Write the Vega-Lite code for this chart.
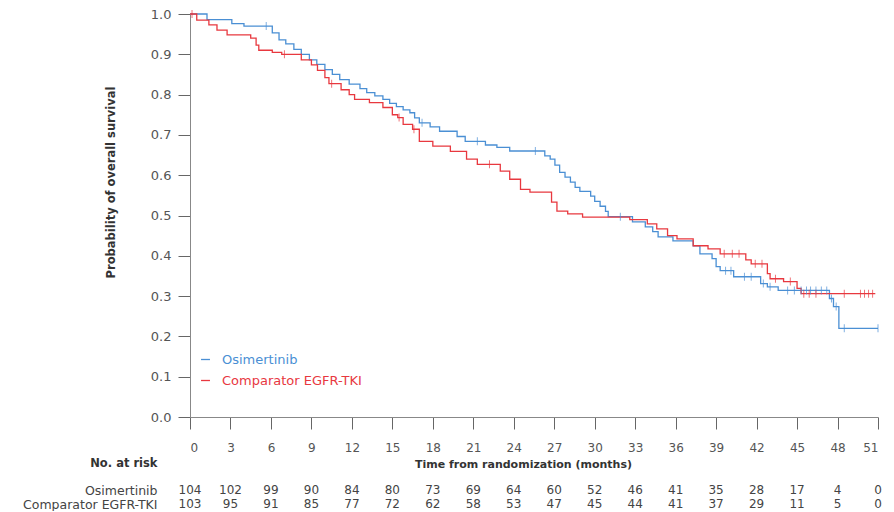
{
  "$schema": "https://vega.github.io/schema/vega-lite/v6.json",
  "padding": {"left": 22, "top": 8, "right": 3, "bottom": 0},
  "background": "white",
  "bounds": "flush",
  "spacing": 66,
  "config": {"font": "DejaVu Sans", "view": {"stroke": null}},
  "datasets": {
    "steps": [
      {"arm": "Osimertinib", "month": 0, "survival": 1.0},
      {"arm": "Osimertinib", "month": 1.26, "survival": 0.986},
      {"arm": "Osimertinib", "month": 3.1, "survival": 0.976},
      {"arm": "Osimertinib", "month": 4.0, "survival": 0.97},
      {"arm": "Osimertinib", "month": 6.1, "survival": 0.953},
      {"arm": "Osimertinib", "month": 6.6, "survival": 0.936},
      {"arm": "Osimertinib", "month": 7.1, "survival": 0.926},
      {"arm": "Osimertinib", "month": 7.7, "survival": 0.912},
      {"arm": "Osimertinib", "month": 8.25, "survival": 0.9},
      {"arm": "Osimertinib", "month": 8.85, "survival": 0.886},
      {"arm": "Osimertinib", "month": 9.4, "survival": 0.875},
      {"arm": "Osimertinib", "month": 10.0, "survival": 0.862},
      {"arm": "Osimertinib", "month": 10.55, "survival": 0.85},
      {"arm": "Osimertinib", "month": 11.1, "survival": 0.837},
      {"arm": "Osimertinib", "month": 11.8, "survival": 0.826},
      {"arm": "Osimertinib", "month": 12.6, "survival": 0.815},
      {"arm": "Osimertinib", "month": 13.1, "survival": 0.805},
      {"arm": "Osimertinib", "month": 13.7, "survival": 0.797},
      {"arm": "Osimertinib", "month": 14.3, "survival": 0.788},
      {"arm": "Osimertinib", "month": 14.8, "survival": 0.778},
      {"arm": "Osimertinib", "month": 15.3, "survival": 0.77},
      {"arm": "Osimertinib", "month": 15.8, "survival": 0.762},
      {"arm": "Osimertinib", "month": 16.3, "survival": 0.755},
      {"arm": "Osimertinib", "month": 16.65, "survival": 0.742},
      {"arm": "Osimertinib", "month": 17.0, "survival": 0.73},
      {"arm": "Osimertinib", "month": 17.8, "survival": 0.72},
      {"arm": "Osimertinib", "month": 18.5, "survival": 0.709},
      {"arm": "Osimertinib", "month": 19.8, "survival": 0.696},
      {"arm": "Osimertinib", "month": 20.4, "survival": 0.684},
      {"arm": "Osimertinib", "month": 21.9, "survival": 0.675},
      {"arm": "Osimertinib", "month": 22.75, "survival": 0.669},
      {"arm": "Osimertinib", "month": 23.7, "survival": 0.66},
      {"arm": "Osimertinib", "month": 26.3, "survival": 0.648},
      {"arm": "Osimertinib", "month": 26.7, "survival": 0.64},
      {"arm": "Osimertinib", "month": 27.05, "survival": 0.625},
      {"arm": "Osimertinib", "month": 27.4, "survival": 0.607},
      {"arm": "Osimertinib", "month": 27.8, "survival": 0.595},
      {"arm": "Osimertinib", "month": 28.2, "survival": 0.583},
      {"arm": "Osimertinib", "month": 28.55, "survival": 0.57},
      {"arm": "Osimertinib", "month": 28.9, "survival": 0.56},
      {"arm": "Osimertinib", "month": 29.7, "survival": 0.548},
      {"arm": "Osimertinib", "month": 30.0, "survival": 0.535},
      {"arm": "Osimertinib", "month": 30.4, "survival": 0.523},
      {"arm": "Osimertinib", "month": 30.8, "survival": 0.51},
      {"arm": "Osimertinib", "month": 31.0, "survival": 0.497},
      {"arm": "Osimertinib", "month": 32.8, "survival": 0.484},
      {"arm": "Osimertinib", "month": 33.75, "survival": 0.472},
      {"arm": "Osimertinib", "month": 34.3, "survival": 0.46},
      {"arm": "Osimertinib", "month": 34.7, "survival": 0.447},
      {"arm": "Osimertinib", "month": 35.8, "survival": 0.437},
      {"arm": "Osimertinib", "month": 37.3, "survival": 0.425},
      {"arm": "Osimertinib", "month": 37.8, "survival": 0.405},
      {"arm": "Osimertinib", "month": 38.7, "survival": 0.393},
      {"arm": "Osimertinib", "month": 39.0, "survival": 0.373},
      {"arm": "Osimertinib", "month": 39.3, "survival": 0.363},
      {"arm": "Osimertinib", "month": 40.3, "survival": 0.348},
      {"arm": "Osimertinib", "month": 42.3, "survival": 0.331},
      {"arm": "Osimertinib", "month": 42.8, "survival": 0.323},
      {"arm": "Osimertinib", "month": 43.6, "survival": 0.314},
      {"arm": "Osimertinib", "month": 47.4, "survival": 0.294},
      {"arm": "Osimertinib", "month": 47.7, "survival": 0.274},
      {"arm": "Osimertinib", "month": 48.1, "survival": 0.22},
      {"arm": "Osimertinib", "month": 51.0, "survival": 0.22},
      {"arm": "Comparator EGFR-TKI", "month": 0, "survival": 1.0},
      {"arm": "Comparator EGFR-TKI", "month": 0.5, "survival": 0.985},
      {"arm": "Comparator EGFR-TKI", "month": 1.4, "survival": 0.973},
      {"arm": "Comparator EGFR-TKI", "month": 2.0, "survival": 0.96},
      {"arm": "Comparator EGFR-TKI", "month": 2.75, "survival": 0.948},
      {"arm": "Comparator EGFR-TKI", "month": 4.5, "survival": 0.94},
      {"arm": "Comparator EGFR-TKI", "month": 4.9, "survival": 0.923},
      {"arm": "Comparator EGFR-TKI", "month": 5.1, "survival": 0.91},
      {"arm": "Comparator EGFR-TKI", "month": 6.1, "survival": 0.905},
      {"arm": "Comparator EGFR-TKI", "month": 6.8, "survival": 0.9},
      {"arm": "Comparator EGFR-TKI", "month": 8.25, "survival": 0.886},
      {"arm": "Comparator EGFR-TKI", "month": 9.0, "survival": 0.874},
      {"arm": "Comparator EGFR-TKI", "month": 9.45, "survival": 0.86},
      {"arm": "Comparator EGFR-TKI", "month": 10.0, "survival": 0.842},
      {"arm": "Comparator EGFR-TKI", "month": 10.3, "survival": 0.827},
      {"arm": "Comparator EGFR-TKI", "month": 11.2, "survival": 0.812},
      {"arm": "Comparator EGFR-TKI", "month": 11.8, "survival": 0.8},
      {"arm": "Comparator EGFR-TKI", "month": 12.2, "survival": 0.788},
      {"arm": "Comparator EGFR-TKI", "month": 13.3, "survival": 0.78},
      {"arm": "Comparator EGFR-TKI", "month": 14.3, "survival": 0.768},
      {"arm": "Comparator EGFR-TKI", "month": 15.0, "survival": 0.75},
      {"arm": "Comparator EGFR-TKI", "month": 15.4, "survival": 0.743},
      {"arm": "Comparator EGFR-TKI", "month": 15.8, "survival": 0.726},
      {"arm": "Comparator EGFR-TKI", "month": 16.5, "survival": 0.714},
      {"arm": "Comparator EGFR-TKI", "month": 17.0, "survival": 0.684},
      {"arm": "Comparator EGFR-TKI", "month": 18.0, "survival": 0.672},
      {"arm": "Comparator EGFR-TKI", "month": 19.3, "survival": 0.659},
      {"arm": "Comparator EGFR-TKI", "month": 20.5, "survival": 0.64},
      {"arm": "Comparator EGFR-TKI", "month": 21.3, "survival": 0.627},
      {"arm": "Comparator EGFR-TKI", "month": 23.0, "survival": 0.61},
      {"arm": "Comparator EGFR-TKI", "month": 23.7, "survival": 0.59},
      {"arm": "Comparator EGFR-TKI", "month": 24.5, "survival": 0.565},
      {"arm": "Comparator EGFR-TKI", "month": 25.2, "survival": 0.558},
      {"arm": "Comparator EGFR-TKI", "month": 26.8, "survival": 0.533},
      {"arm": "Comparator EGFR-TKI", "month": 27.2, "survival": 0.511},
      {"arm": "Comparator EGFR-TKI", "month": 28.0, "survival": 0.504},
      {"arm": "Comparator EGFR-TKI", "month": 29.1, "survival": 0.496},
      {"arm": "Comparator EGFR-TKI", "month": 32.6, "survival": 0.49},
      {"arm": "Comparator EGFR-TKI", "month": 33.9, "survival": 0.479},
      {"arm": "Comparator EGFR-TKI", "month": 34.6, "survival": 0.467},
      {"arm": "Comparator EGFR-TKI", "month": 35.4, "survival": 0.45},
      {"arm": "Comparator EGFR-TKI", "month": 36.1, "survival": 0.442},
      {"arm": "Comparator EGFR-TKI", "month": 37.3, "survival": 0.425},
      {"arm": "Comparator EGFR-TKI", "month": 38.4, "survival": 0.417},
      {"arm": "Comparator EGFR-TKI", "month": 39.3, "survival": 0.405},
      {"arm": "Comparator EGFR-TKI", "month": 41.2, "survival": 0.39},
      {"arm": "Comparator EGFR-TKI", "month": 41.6, "survival": 0.38},
      {"arm": "Comparator EGFR-TKI", "month": 42.8, "survival": 0.356},
      {"arm": "Comparator EGFR-TKI", "month": 43.0, "survival": 0.343},
      {"arm": "Comparator EGFR-TKI", "month": 44.0, "survival": 0.336},
      {"arm": "Comparator EGFR-TKI", "month": 45.0, "survival": 0.319},
      {"arm": "Comparator EGFR-TKI", "month": 45.3, "survival": 0.306},
      {"arm": "Comparator EGFR-TKI", "month": 50.8, "survival": 0.306}
    ],
    "censor": [
      {"arm": "Osimertinib", "month": 5.65, "survival": 0.97},
      {"arm": "Osimertinib", "month": 17.2, "survival": 0.73},
      {"arm": "Osimertinib", "month": 21.3, "survival": 0.684},
      {"arm": "Osimertinib", "month": 25.6, "survival": 0.66},
      {"arm": "Osimertinib", "month": 31.9, "survival": 0.497},
      {"arm": "Osimertinib", "month": 39.7, "survival": 0.363},
      {"arm": "Osimertinib", "month": 40.1, "survival": 0.363},
      {"arm": "Osimertinib", "month": 41.1, "survival": 0.348},
      {"arm": "Osimertinib", "month": 41.6, "survival": 0.348},
      {"arm": "Osimertinib", "month": 42.5, "survival": 0.331},
      {"arm": "Osimertinib", "month": 43.0, "survival": 0.323},
      {"arm": "Osimertinib", "month": 44.3, "survival": 0.314},
      {"arm": "Osimertinib", "month": 44.8, "survival": 0.314},
      {"arm": "Osimertinib", "month": 45.3, "survival": 0.314},
      {"arm": "Osimertinib", "month": 45.7, "survival": 0.314},
      {"arm": "Osimertinib", "month": 46.0, "survival": 0.314},
      {"arm": "Osimertinib", "month": 46.4, "survival": 0.314},
      {"arm": "Osimertinib", "month": 46.8, "survival": 0.314},
      {"arm": "Osimertinib", "month": 47.2, "survival": 0.314},
      {"arm": "Osimertinib", "month": 47.55, "survival": 0.294},
      {"arm": "Osimertinib", "month": 47.9, "survival": 0.274},
      {"arm": "Osimertinib", "month": 48.5, "survival": 0.22},
      {"arm": "Osimertinib", "month": 51.0, "survival": 0.22},
      {"arm": "Comparator EGFR-TKI", "month": 0.15, "survival": 1.0},
      {"arm": "Comparator EGFR-TKI", "month": 7.0, "survival": 0.9},
      {"arm": "Comparator EGFR-TKI", "month": 10.5, "survival": 0.827},
      {"arm": "Comparator EGFR-TKI", "month": 15.5, "survival": 0.743},
      {"arm": "Comparator EGFR-TKI", "month": 16.6, "survival": 0.714},
      {"arm": "Comparator EGFR-TKI", "month": 22.2, "survival": 0.627},
      {"arm": "Comparator EGFR-TKI", "month": 39.6, "survival": 0.405},
      {"arm": "Comparator EGFR-TKI", "month": 40.2, "survival": 0.405},
      {"arm": "Comparator EGFR-TKI", "month": 40.7, "survival": 0.405},
      {"arm": "Comparator EGFR-TKI", "month": 41.9, "survival": 0.38},
      {"arm": "Comparator EGFR-TKI", "month": 42.4, "survival": 0.38},
      {"arm": "Comparator EGFR-TKI", "month": 43.4, "survival": 0.343},
      {"arm": "Comparator EGFR-TKI", "month": 44.5, "survival": 0.336},
      {"arm": "Comparator EGFR-TKI", "month": 45.5, "survival": 0.306},
      {"arm": "Comparator EGFR-TKI", "month": 45.9, "survival": 0.306},
      {"arm": "Comparator EGFR-TKI", "month": 46.4, "survival": 0.306},
      {"arm": "Comparator EGFR-TKI", "month": 48.5, "survival": 0.306},
      {"arm": "Comparator EGFR-TKI", "month": 49.7, "survival": 0.306},
      {"arm": "Comparator EGFR-TKI", "month": 50.0, "survival": 0.306},
      {"arm": "Comparator EGFR-TKI", "month": 50.3, "survival": 0.306},
      {"arm": "Comparator EGFR-TKI", "month": 50.6, "survival": 0.306}
    ],
    "risk": [
      {"arm": "Osimertinib", "month": 0, "n": 104},
      {"arm": "Osimertinib", "month": 3, "n": 102},
      {"arm": "Osimertinib", "month": 6, "n": 99},
      {"arm": "Osimertinib", "month": 9, "n": 90},
      {"arm": "Osimertinib", "month": 12, "n": 84},
      {"arm": "Osimertinib", "month": 15, "n": 80},
      {"arm": "Osimertinib", "month": 18, "n": 73},
      {"arm": "Osimertinib", "month": 21, "n": 69},
      {"arm": "Osimertinib", "month": 24, "n": 64},
      {"arm": "Osimertinib", "month": 27, "n": 60},
      {"arm": "Osimertinib", "month": 30, "n": 52},
      {"arm": "Osimertinib", "month": 33, "n": 46},
      {"arm": "Osimertinib", "month": 36, "n": 41},
      {"arm": "Osimertinib", "month": 39, "n": 35},
      {"arm": "Osimertinib", "month": 42, "n": 28},
      {"arm": "Osimertinib", "month": 45, "n": 17},
      {"arm": "Osimertinib", "month": 48, "n": 4},
      {"arm": "Osimertinib", "month": 51, "n": 0},
      {"arm": "Comparator EGFR-TKI", "month": 0, "n": 103},
      {"arm": "Comparator EGFR-TKI", "month": 3, "n": 95},
      {"arm": "Comparator EGFR-TKI", "month": 6, "n": 91},
      {"arm": "Comparator EGFR-TKI", "month": 9, "n": 85},
      {"arm": "Comparator EGFR-TKI", "month": 12, "n": 77},
      {"arm": "Comparator EGFR-TKI", "month": 15, "n": 72},
      {"arm": "Comparator EGFR-TKI", "month": 18, "n": 62},
      {"arm": "Comparator EGFR-TKI", "month": 21, "n": 58},
      {"arm": "Comparator EGFR-TKI", "month": 24, "n": 53},
      {"arm": "Comparator EGFR-TKI", "month": 27, "n": 47},
      {"arm": "Comparator EGFR-TKI", "month": 30, "n": 45},
      {"arm": "Comparator EGFR-TKI", "month": 33, "n": 44},
      {"arm": "Comparator EGFR-TKI", "month": 36, "n": 41},
      {"arm": "Comparator EGFR-TKI", "month": 39, "n": 37},
      {"arm": "Comparator EGFR-TKI", "month": 42, "n": 29},
      {"arm": "Comparator EGFR-TKI", "month": 45, "n": 11},
      {"arm": "Comparator EGFR-TKI", "month": 48, "n": 5},
      {"arm": "Comparator EGFR-TKI", "month": 51, "n": 0}
    ]
  },
  "vconcat": [
    {
      "width": 688,
      "height": 403,
      "layer": [
        {
          "data": {"name": "steps"},
          "mark": {"type": "line", "interpolate": "step-after", "strokeWidth": 1.3},
          "encoding": {
            "x": {
              "field": "month", "type": "quantitative",
              "scale": {"domain": [0, 51], "nice": false, "zero": false},
              "axis": {
                "values": [0, 3, 6, 9, 12, 15, 18, 21, 24, 27, 30, 33, 36, 39, 42, 45, 48, 51],
                "title": "Time from randomization (months)",
                "titleFont": "DejaVu Sans", "titleFontSize": 11, "titleFontWeight": "bold", "titleColor": "#333",
                "titleX": 333, "titleY": 47, "titleBaseline": "middle",
                "tickSize": 12, "tickColor": "#666", "domainColor": "#888",
                "labelPadding": 13, "labelFontSize": 12, "labelColor": "#555", "labelFont": "DejaVu Sans",
                "grid": false
              }
            },
            "y": {
              "field": "survival", "type": "quantitative",
              "scale": {"domain": [0, 1], "nice": false},
              "axis": {
                "values": [0, 0.1, 0.2, 0.3, 0.4, 0.5, 0.6, 0.7, 0.8, 0.9, 1.0],
                "format": ".1f",
                "title": "Probability of overall survival",
                "titleFont": "DejaVu Sans", "titleFontSize": 11.5, "titleFontWeight": "bold", "titleColor": "#333",
                "titleX": -79, "titleY": 168, "titleBaseline": "middle",
                "tickSize": 12, "tickColor": "#666", "domainColor": "#888",
                "labelPadding": 7, "labelFontSize": 13, "labelColor": "#555", "labelFont": "DejaVu Sans",
                "grid": false
              }
            },
            "color": {
              "field": "arm", "type": "nominal",
              "scale": {"domain": ["Osimertinib", "Comparator EGFR-TKI"], "range": ["#4a8fd4", "#e8383f"]},
              "legend": {
                "title": null, "orient": "none", "legendX": 9, "legendY": 339,
                "symbolType": "stroke", "symbolSize": 80, "symbolStrokeWidth": 1.3,
                "labelFont": "DejaVu Sans", "labelFontSize": 13, "labelOffset": 10, "rowPadding": 7, "padding": 0,
                "encode": {"labels": {"update": {"fill": {"scale": "color", "field": "value"}}}}
              }
            }
          }
        },
        {
          "data": {"name": "censor"},
          "mark": {"type": "tick", "orient": "vertical", "size": 8, "thickness": 1},
          "encoding": {
            "x": {"field": "month", "type": "quantitative", "scale": {"domain": [0, 51], "nice": false, "zero": false}},
            "y": {"field": "survival", "type": "quantitative", "scale": {"domain": [0, 1], "nice": false}},
            "color": {"field": "arm", "type": "nominal"}
          }
        }
      ]
    },
    {
      "width": 688,
      "height": 28,
      "data": {"name": "risk"},
      "mark": {"type": "text", "fontSize": 12, "color": "#444", "font": "DejaVu Sans"},
      "encoding": {
        "x": {"field": "month", "type": "quantitative", "scale": {"domain": [0, 51], "nice": false, "zero": false}, "axis": null},
        "y": {
          "field": "arm", "type": "nominal",
          "sort": ["Osimertinib", "Comparator EGFR-TKI"],
          "scale": {"paddingInner": 0, "paddingOuter": 0},
          "axis": {
            "title": "No. at risk", "titleAngle": 0, "titleAlign": "right", "titleBaseline": "middle",
            "titleX": -33, "titleY": -20,
            "titleFont": "DejaVu Sans", "titleFontSize": 11.5, "titleFontWeight": "bold", "titleColor": "#333",
            "ticks": false, "tickSize": 0, "domain": false,
            "labelPadding": 33, "labelFontSize": 12.5, "labelColor": "#444", "labelFont": "DejaVu Sans"
          }
        },
        "text": {"field": "n", "type": "quantitative"}
      }
    }
  ]
}
